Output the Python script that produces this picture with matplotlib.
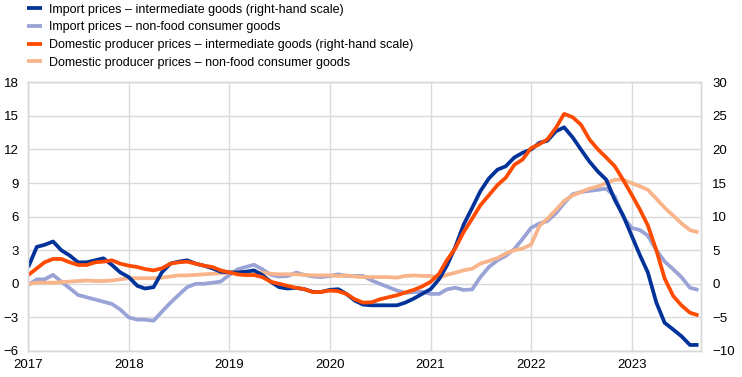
import pandas as pd
import matplotlib
matplotlib.use('Agg')
import matplotlib.pyplot as plt
import matplotlib.dates as mdates

plt.rcParams['font.family'] = ['Liberation Sans', 'DejaVu Sans']

months = pd.date_range('2017-01-01', periods=81, freq='MS')

# right-hand scale
import_intermediate = [
    2.5, 5.5, 5.8, 6.3, 5.0, 4.2, 3.2, 3.2, 3.5, 3.8, 2.8, 1.7,
    1.0, -0.3, -0.7, -0.5, 1.7, 3.0, 3.3, 3.5, 3.0, 2.7, 2.3, 1.8,
    1.7, 1.7, 1.8, 2.0, 1.3, 0.3, -0.5, -0.7, -0.6, -0.8, -1.2, -1.2,
    -0.9, -0.8, -1.5, -2.5, -3.1, -3.2, -3.2, -3.2, -3.2, -2.8, -2.2, -1.5,
    -0.8, 0.7, 2.7, 5.5, 8.8, 11.3, 13.8, 15.7, 17.0, 17.5, 18.8, 19.5,
    20.0, 21.0, 21.3, 22.7, 23.3, 21.8, 20.0, 18.2, 16.7, 15.5, 12.5, 10.2,
    7.2, 4.2, 1.7, -2.8, -5.8, -6.8, -7.8, -9.1, -9.1]
domestic_intermediate = [
    1.3, 2.3, 3.2, 3.7, 3.7, 3.2, 2.8, 2.8, 3.2, 3.3, 3.5, 3.0,
    2.7, 2.5, 2.2, 2.0, 2.3, 3.0, 3.2, 3.3, 3.0, 2.7, 2.5, 2.0,
    1.7, 1.4, 1.3, 1.3, 1.0, 0.3, 0.0, -0.3, -0.6, -0.8, -1.25, -1.2,
    -1.0, -1.1, -1.5, -2.3, -2.8, -2.75, -2.3, -2.0, -1.7, -1.3, -0.9, -0.4,
    0.3, 1.5, 3.5, 5.3, 7.7, 9.7, 11.7, 13.2, 14.7, 15.8, 17.7, 18.5,
    20.2, 20.8, 21.5, 23.2, 25.3, 24.8, 23.7, 21.5, 20.0, 18.8, 17.5, 15.5,
    13.3, 11.0, 8.7, 5.0, 0.8, -1.8, -3.2, -4.3, -4.7]

# left-hand scale
import_consumer = [
    -0.1, 0.4, 0.4, 0.8, 0.2, -0.4, -1.0, -1.2, -1.4, -1.6, -1.8, -2.3,
    -3.0, -3.2, -3.2, -3.3, -2.5, -1.7, -1.0, -0.3, 0.0, 0.0, 0.1, 0.2,
    0.8, 1.3, 1.5, 1.7, 1.3, 0.8, 0.65, 0.7, 1.0, 0.8, 0.65, 0.6,
    0.7, 0.85, 0.7, 0.7, 0.7, 0.3, 0.0, -0.3, -0.6, -0.8, -0.75, -0.7,
    -0.9, -0.9, -0.5, -0.35, -0.55, -0.5, 0.6, 1.5, 2.1, 2.5, 3.1, 4.0,
    5.0, 5.4, 5.6, 6.3, 7.2, 8.0, 8.2, 8.3, 8.4, 8.5, 7.8, 6.0,
    5.0, 4.8, 4.3, 3.0, 2.0, 1.3, 0.6, -0.35, -0.55]
domestic_consumer = [
    0.0, 0.1, 0.1, 0.1, 0.15, 0.2, 0.25, 0.3, 0.25, 0.25, 0.3, 0.4,
    0.5, 0.5, 0.5, 0.5, 0.55, 0.65, 0.75, 0.75, 0.8, 0.85, 0.9, 0.95,
    1.0, 1.05, 1.05, 1.0, 1.0, 0.9, 0.85, 0.85, 0.85, 0.8, 0.75, 0.75,
    0.75, 0.7, 0.75, 0.65, 0.6, 0.6, 0.6, 0.6, 0.55, 0.7, 0.75, 0.7,
    0.7, 0.55, 0.8, 1.0, 1.2, 1.35, 1.8, 2.05, 2.3, 2.7, 3.0, 3.15,
    3.5, 5.2, 5.8, 6.6, 7.4, 7.9, 8.2, 8.5, 8.7, 9.0, 9.3, 9.3,
    9.0, 8.7, 8.4, 7.6, 6.8, 6.1, 5.4, 4.8, 4.6]

labels = ['Import prices \u2013 intermediate goods (right-hand scale)',
          'Import prices \u2013 non-food consumer goods',
          'Domestic producer prices \u2013 intermediate goods (right-hand scale)',
          'Domestic producer prices \u2013 non-food consumer goods']
colors = ['#003299', '#9aa3d6', '#ff4b00', '#f8b48a']

fig = plt.figure(figsize=(7.42, 3.77), dpi=100)
ax = fig.add_axes([0.0381, 0.069, 0.9066, 0.7127])
ax2 = ax.twinx()

l2, = ax.plot(months, import_consumer, color=colors[1], lw=2.7, solid_capstyle='butt')
l4, = ax.plot(months, domestic_consumer, color=colors[3], lw=2.7, solid_capstyle='butt')
l1, = ax2.plot(months, import_intermediate, color=colors[0], lw=2.7, solid_capstyle='butt')
l3, = ax2.plot(months, domestic_intermediate, color=colors[2], lw=2.7, solid_capstyle='butt')

ax.set_ylim(-6, 18)
ax.set_yticks(range(-6, 19, 3))
ax2.set_ylim(-10, 30)
ax2.set_yticks(range(-10, 31, 5))
ax.set_xlim(pd.Timestamp('2017-01-01'), pd.Timestamp('2023-09-10'))
ax.xaxis.set_major_locator(mdates.YearLocator())
ax.xaxis.set_major_formatter(mdates.DateFormatter('%Y'))

ax.grid(True, color='#d9d9d9', lw=1)
ax.set_axisbelow(True)
for a in (ax, ax2):
    for s in a.spines.values():
        s.set_color('#d9d9d9')
        s.set_linewidth(1)
    a.tick_params(length=0, labelsize=9.5, colors='black')
ax.tick_params(axis='y', pad=7)
ax.tick_params(axis='x', pad=6)
ax2.tick_params(axis='y', pad=8)

fig.legend([l1, l2, l3, l4], labels, loc='upper left', bbox_to_anchor=(0.026, 1.01),
           frameon=False, fontsize=9, handlelength=1.2, handletextpad=0.6,
           labelspacing=0.45, borderaxespad=0.2)

fig.savefig('out.png', dpi=100)
